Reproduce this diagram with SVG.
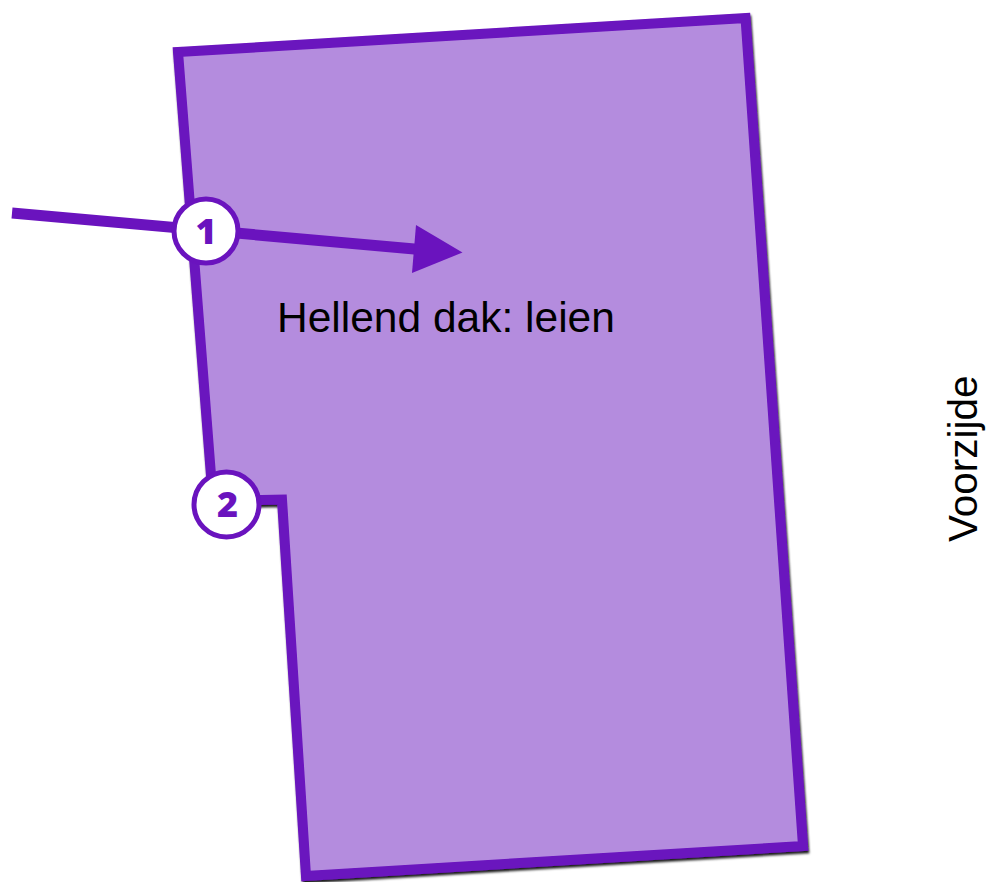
<svg xmlns="http://www.w3.org/2000/svg" width="989" height="882" viewBox="0 0 989 882">
  <style>
    .roof { fill: #B48CDE; stroke: #6A13BE; stroke-width: 10; stroke-linejoin: miter; }
    .conn { stroke: #6A13BE; stroke-width: 11; fill: none; }
    .head { fill: #6A13BE; }
    .badge { fill: #FFFFFF; stroke: #6A13BE; stroke-width: 5; }
    .num { font-family: "Open Sans", "Liberation Sans", sans-serif; font-weight: 800; font-size: 36px; fill: #6A13BE; text-anchor: middle; }
    .label { font-family: "Liberation Sans", Arial, sans-serif; font-size: 42.5px; fill: #000000; }
    .side { font-size: 40.5px; }
  </style>
  <defs>
    <filter id="shadow" x="-5%" y="-5%" width="110%" height="110%">
      <feDropShadow dx="1" dy="2.5" stdDeviation="0.8" flood-color="#000000" flood-opacity="0.9"/>
    </filter>
  </defs>
  <g id="roof">
    <polygon class="roof" filter="url(#shadow)" points="178,52 745.5,18 803,846 306,876 282,499.5 213,501"/>
  </g>
  <g id="label-roof">
    <text class="label" x="277" y="332">Hellend dak: leien</text>
  </g>
  <g id="label-front">
    <text class="label side" transform="translate(977,542) rotate(-90)">Voorzijde</text>
  </g>
  <g id="connectors">
    <line class="conn" x1="12" y1="213" x2="420" y2="249.5"/>
    <polygon class="head" points="462.5,252.5 416,225 412,273"/>
  </g>
  <g id="badge-1">
    <circle class="badge" cx="206" cy="231" r="32"/>
    <text class="num" x="206" y="243.5">1</text>
  </g>
  <g id="badge-2">
    <circle class="badge" cx="226.5" cy="504.5" r="32.5"/>
    <text class="num" x="227.5" y="517">2</text>
  </g>
</svg>
